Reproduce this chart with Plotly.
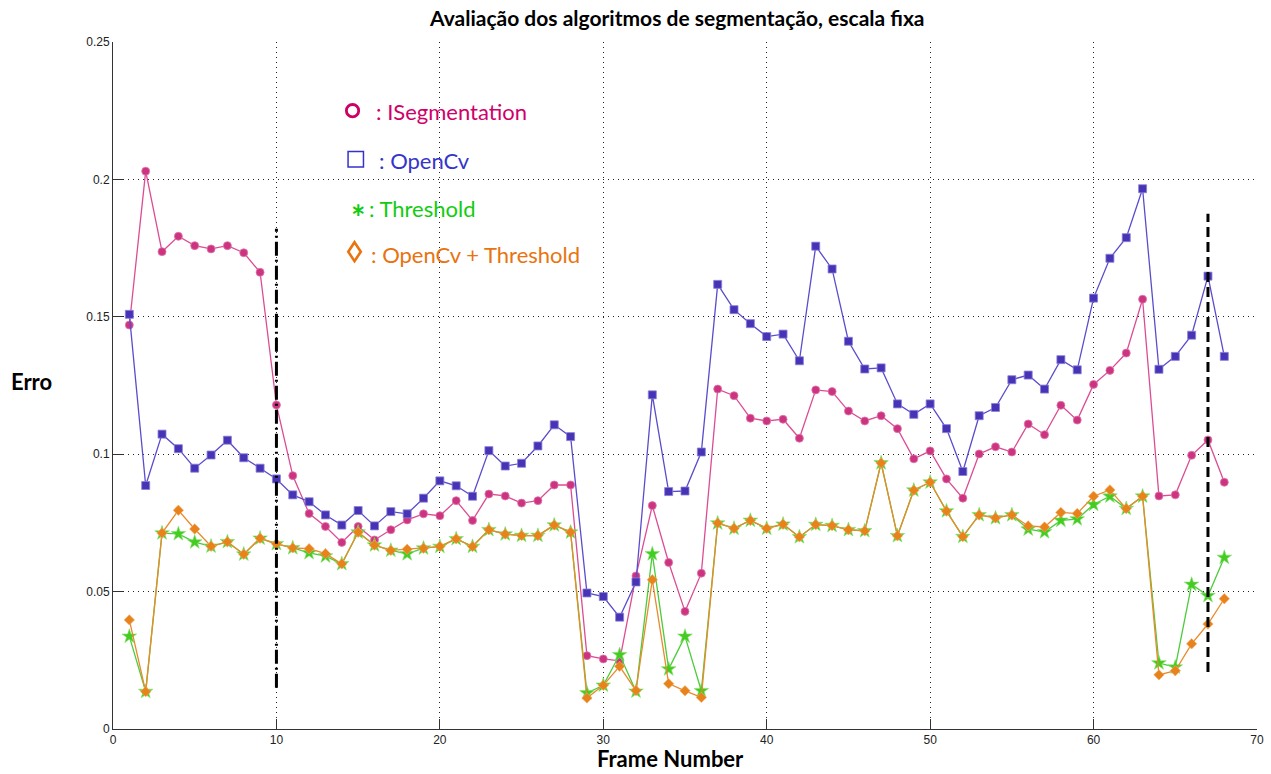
import plotly.graph_objects as go

frames = list(range(1, 69))

isegmentation = [0.147, 0.203, 0.1737, 0.1793, 0.1759, 0.1747, 0.1759, 0.1733, 0.1662, 0.1179,
                 0.0922, 0.0784, 0.0737, 0.0679, 0.0737, 0.0688, 0.0725, 0.0761, 0.0783, 0.0776,
                 0.0831, 0.0759, 0.0855, 0.0848, 0.0822, 0.0831, 0.0888, 0.0888, 0.0267, 0.0255,
                 0.0248, 0.0557, 0.0813, 0.0606, 0.0428, 0.0567, 0.1237, 0.1213, 0.1131, 0.1121,
                 0.1127, 0.1058, 0.1234, 0.1228, 0.1157, 0.1121, 0.1140, 0.1093, 0.0983, 0.1012,
                 0.0910, 0.0840, 0.1001, 0.1027, 0.1008, 0.1110, 0.1071, 0.1178, 0.1124, 0.1254,
                 0.1305, 0.1368, 0.1564, 0.0848, 0.0852, 0.0996, 0.1052, 0.0898]

opencv = [0.1509, 0.0886, 0.1073, 0.1020, 0.0949, 0.0997, 0.1051, 0.0987, 0.0949, 0.0910,
          0.0852, 0.0827, 0.0779, 0.0742, 0.0795, 0.0739, 0.0791, 0.0783, 0.0840, 0.0903,
          0.0885, 0.0847, 0.1013, 0.0957, 0.0967, 0.1030, 0.1107, 0.1064, 0.0495, 0.0482,
          0.0407, 0.0535, 0.1216, 0.0864, 0.0866, 0.1008, 0.1618, 0.1526, 0.1475, 0.1428,
          0.1437, 0.1340, 0.1757, 0.1674, 0.1411, 0.1310, 0.1314, 0.1183, 0.1145, 0.1183,
          0.1093, 0.0937, 0.1140, 0.1170, 0.1271, 0.1288, 0.1237, 0.1344, 0.1307, 0.1568,
          0.1713, 0.1788, 0.1966, 0.1309, 0.1356, 0.1433, 0.1648, 0.1356]

threshold = [0.0337, 0.0136, 0.0713, 0.0710, 0.0680, 0.0665, 0.0681, 0.0636, 0.0694, 0.0674,
             0.0659, 0.0641, 0.0629, 0.0601, 0.0716, 0.0669, 0.0650, 0.0637, 0.0658, 0.0664,
             0.0692, 0.0664, 0.0725, 0.0709, 0.0704, 0.0704, 0.0742, 0.0716, 0.0131, 0.0159,
             0.0270, 0.0137, 0.0637, 0.0218, 0.0337, 0.0139, 0.0749, 0.0730, 0.0759, 0.0730,
             0.0745, 0.0699, 0.0744, 0.0740, 0.0725, 0.0721, 0.0968, 0.0703, 0.0869, 0.0898,
             0.0793, 0.0700, 0.0779, 0.0768, 0.0779, 0.0727, 0.0717, 0.0759, 0.0764, 0.0817,
             0.0847, 0.0802, 0.0847, 0.0240, 0.0225, 0.0526, 0.0485, 0.0624]

opencv_threshold = [0.0397, 0.0136, 0.0713, 0.0796, 0.0728, 0.0665, 0.0681, 0.0636, 0.0694, 0.0674,
                    0.0659, 0.0656, 0.0638, 0.0601, 0.0716, 0.0669, 0.0650, 0.0654, 0.0658, 0.0664,
                    0.0692, 0.0664, 0.0725, 0.0709, 0.0704, 0.0704, 0.0742, 0.0716, 0.0113, 0.0159,
                    0.0228, 0.0140, 0.0543, 0.0165, 0.0139, 0.0115, 0.0749, 0.0730, 0.0759, 0.0730,
                    0.0745, 0.0699, 0.0744, 0.0740, 0.0725, 0.0721, 0.0968, 0.0703, 0.0869, 0.0898,
                    0.0793, 0.0700, 0.0779, 0.0768, 0.0779, 0.0739, 0.0735, 0.0788, 0.0784, 0.0847,
                    0.0870, 0.0802, 0.0847, 0.0197, 0.0212, 0.0310, 0.0382, 0.0474]

marker_line1_x = [10, 10]
marker_line1_y = [0.015, 0.182]
marker_line2_x = [67, 67]
marker_line2_y = [0.0207, 0.1875]

x_ticks = [0, 10, 20, 30, 40, 50, 60, 70]
y_ticks = [0, 0.05, 0.1, 0.15, 0.2, 0.25]
y_tick_labels = ["0", "0.05", "0.1", "0.15", "0.2", "0.25"]

title_text = "Avaliação dos algoritmos de segmentação, escala fixa"
x_label = "Frame Number"
y_label = "Erro"
legend_labels = [": ISegmentation", ": OpenCv", ": Threshold", ": OpenCv + Threshold"]

W, H = 1271, 774
ML, MR, MT, MB = 113, 7, 42, 45
PW, PH = W - ML - MR, H - MT - MB


def px(xp):
    return (xp - ML) / PW


def py(yp):
    return (MT + PH - yp) / PH


fig = go.Figure()

fig.add_trace(go.Scatter(x=frames, y=isegmentation, mode="lines+markers", name="ISegmentation",
                         line=dict(color="#dc4c95", width=1.3),
                         marker=dict(symbol="circle", size=8, color="#cc3380",
                                     line=dict(color="#e07aaa", width=0.8))))
fig.add_trace(go.Scatter(x=frames, y=opencv, mode="lines+markers", name="OpenCv",
                         line=dict(color="#5a4ccc", width=1.3),
                         marker=dict(symbol="square", size=8, color="#4633b5",
                                     line=dict(color="#8a80d8", width=0.8))))
fig.add_trace(go.Scatter(x=frames, y=threshold, mode="lines+markers", name="Threshold",
                         line=dict(color="#4ccc3a", width=1.3),
                         marker=dict(symbol="star", size=11, color="#44cc22",
                                     line=dict(color="#88e070", width=0.6))))
fig.add_trace(go.Scatter(x=frames, y=opencv_threshold, mode="lines+markers", name="OpenCv + Threshold",
                         line=dict(color="#ea8a2a", width=1.3),
                         marker=dict(symbol="diamond", size=8, color="#e8821a",
                                     line=dict(color="#f0b070", width=0.6))))

fig.add_trace(go.Scatter(x=marker_line1_x, y=marker_line1_y, mode="lines",
                         line=dict(color="black", width=3, dash="14px,4px,2px,4px"), hoverinfo="skip"))
fig.add_trace(go.Scatter(x=marker_line2_x, y=marker_line2_y, mode="lines",
                         line=dict(color="black", width=3, dash="10px,5px"), hoverinfo="skip"))

axis_common = dict(showgrid=True, gridcolor="#222222", griddash="1px,4px", gridwidth=1,
                   showline=True, linecolor="#333333", linewidth=1, mirror=False,
                   ticks="inside", ticklen=10, tickcolor="#333333", zeroline=False,
                   tickfont=dict(family="Liberation Sans, Arial", size=12, color="#222222"))

fig.update_xaxes(range=[0, 70], tickvals=x_ticks, **axis_common)
fig.update_yaxes(range=[0, 0.25], tickvals=y_ticks, ticktext=y_tick_labels, **axis_common)

shapes = []
# legend glyphs
r = 6.2
shapes.append(dict(type="circle", xref="paper", yref="paper",
                   x0=px(354 - r), x1=px(354 + r), y0=py(110.7 + r), y1=py(110.7 - r),
                   line=dict(color="#cc0066", width=2.8)))
shapes.append(dict(type="rect", xref="paper", yref="paper",
                   x0=px(349.5), x1=px(365), y0=py(167), y1=py(151.5),
                   line=dict(color="#3333cc", width=1.5)))
dx, dy, cx, cy = 6.3, 9.5, 356, 251.7
shapes.append(dict(type="path", xref="paper", yref="paper",
                   path=f"M {px(cx)},{py(cy - dy)} L {px(cx + dx)},{py(cy)} L {px(cx)},{py(cy + dy)} L {px(cx - dx)},{py(cy)} Z",
                   line=dict(color="#e8730f", width=2.6)))

annotations = []
leg_font = "Lato, Open Sans, sans-serif"
annotations.append(dict(xref="paper", yref="paper", x=px(376), y=py(111), text=legend_labels[0],
                        showarrow=False, xanchor="left", yanchor="middle",
                        font=dict(family=leg_font, size=22, color="#d0006a")))
annotations.append(dict(xref="paper", yref="paper", x=px(378.5), y=py(160), text=legend_labels[1],
                        showarrow=False, xanchor="left", yanchor="middle",
                        font=dict(family=leg_font, size=22, color="#3535cc")))
annotations.append(dict(xref="paper", yref="paper", x=px(360), y=py(216), text="<b>*</b>",
                        showarrow=False, xanchor="center", yanchor="middle",
                        font=dict(family=leg_font, size=34, color="#11cc11")))
annotations.append(dict(xref="paper", yref="paper", x=px(369), y=py(208), text=legend_labels[2],
                        showarrow=False, xanchor="left", yanchor="middle",
                        font=dict(family=leg_font, size=22, color="#11cc11")))
annotations.append(dict(xref="paper", yref="paper", x=px(371), y=py(255), text=legend_labels[3],
                        showarrow=False, xanchor="left", yanchor="middle",
                        font=dict(family=leg_font, size=22, color="#e8730f")))

annotations.append(dict(xref="paper", yref="paper", x=px(680), y=py(17), text="<b>" + title_text + "</b>",
                        showarrow=False, xanchor="center", yanchor="middle",
                        font=dict(family=leg_font, size=21, color="black")))
annotations.append(dict(xref="paper", yref="paper", x=px(674), y=py(774), text="<b>" + x_label + "</b>",
                        showarrow=False, xanchor="center", yanchor="bottom",
                        font=dict(family=leg_font, size=22, color="black")))
annotations.append(dict(xref="paper", yref="paper", x=px(31), y=py(381), text="<b>" + y_label + "</b>",
                        showarrow=False, xanchor="center", yanchor="middle",
                        font=dict(family=leg_font, size=22, color="black")))

fig.update_layout(width=W, height=H, margin=dict(l=ML, r=MR, t=MT, b=MB),
                  paper_bgcolor="white", plot_bgcolor="white", showlegend=False,
                  shapes=shapes, annotations=annotations)

# remove the default page margin so the figure fills the browser window exactly
fig.write_html("out.html", config={"displayModeBar": False},
               post_script="document.body.style.margin='0px';document.body.style.overflow='hidden';")
